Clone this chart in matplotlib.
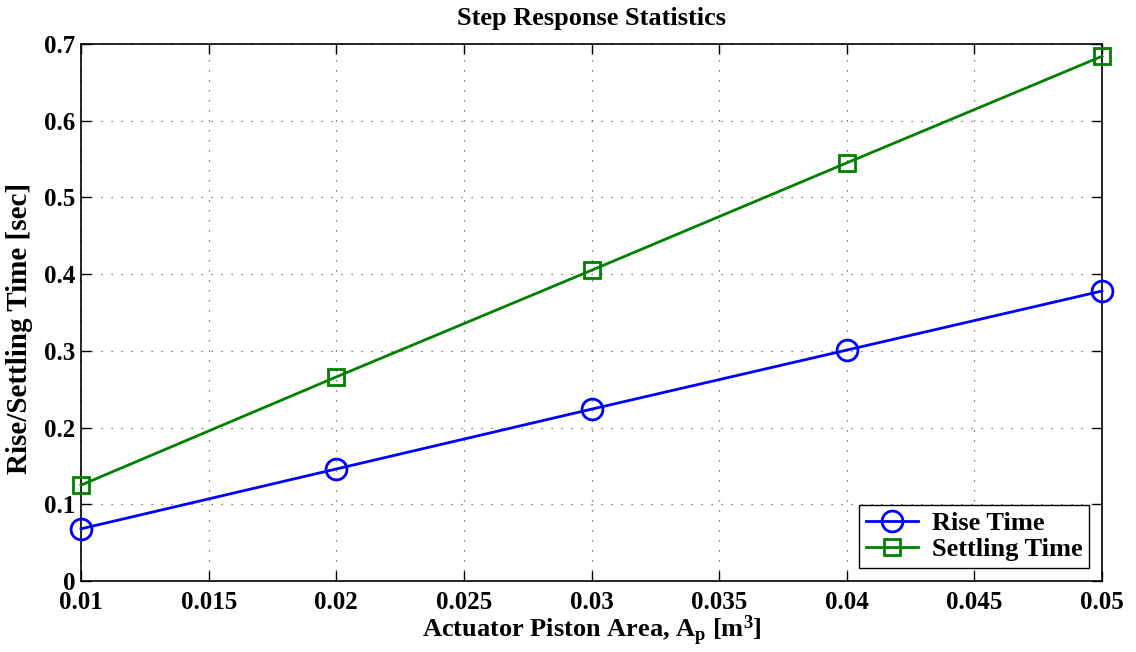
import numpy as np
import matplotlib.pyplot as plt

area = [0.01, 0.02, 0.03, 0.04, 0.05]
rise_time = [0.068, 0.146, 0.224, 0.301, 0.378]
settling_time = [0.125, 0.266, 0.405, 0.545, 0.684]
xticks = [0.01, 0.015, 0.02, 0.025, 0.03, 0.035, 0.04, 0.045, 0.05]
xticklabels = ['0.01', '0.015', '0.02', '0.025', '0.03', '0.035', '0.04', '0.045', '0.05']
yticks = [0, 0.1, 0.2, 0.3, 0.4, 0.5, 0.6, 0.7]
yticklabels = ['0', '0.1', '0.2', '0.3', '0.4', '0.5', '0.6', '0.7']

plt.rcParams['font.family'] = 'Liberation Serif'
plt.rcParams['font.weight'] = 'bold'
plt.rcParams['mathtext.fontset'] = 'custom'
plt.rcParams['mathtext.rm'] = 'Liberation Serif:bold'
plt.rcParams['mathtext.it'] = 'Liberation Serif:bold'
plt.rcParams['mathtext.bf'] = 'Liberation Serif:bold'

fig = plt.figure(figsize=(11.36, 6.52), dpi=100)
ax = fig.add_axes([81/1136, 1 - 581/652, (1102-81)/1136, (581-44)/652])

ax.plot(area, rise_time, color='#0000ff', lw=2, marker='o', ms=15,
        mfc='none', mew=2, label='Rise Time', clip_on=False, zorder=3)
ax.plot(area, settling_time, color='#008000', lw=2, marker='s', ms=12,
        mfc='none', mew=2, label='Settling Time', clip_on=False, zorder=3)

ax.set_xlim(0.01, 0.05)
ax.set_ylim(0, 0.7)
ax.set_xticks(xticks)
ax.set_xticklabels(xticklabels)
ax.set_yticks(yticks)
ax.set_yticklabels(yticklabels)
ax.tick_params(direction='in', length=7, labelsize=18, width=1, pad=4,
               top=True, right=True)
ax.tick_params(axis='x', pad=7)
ax.grid(True, color='#555555', lw=0.9, dashes=(1, 7))
for s in ax.spines.values():
    s.set_linewidth(1.2)
for lab in ax.get_xticklabels() + ax.get_yticklabels():
    lab.set_fontweight('bold')

ax.set_title('Step Response Statistics', fontsize=19, fontweight='bold', pad=14)
ax.set_xlabel(r'Actuator Piston Area, A$_\mathrm{p}$ [m$^\mathrm{3}$]',
              fontsize=19, fontweight='bold', labelpad=0)
ax.set_ylabel('Rise/Settling Time [sec]', fontsize=21, fontweight='bold')
ax.yaxis.set_label_coords(-0.047, 0.47)

leg = ax.legend(loc='lower right', fontsize=19, fancybox=False, framealpha=1,
                edgecolor='black', borderaxespad=0.5, handlelength=2.0,
                borderpad=0.25, labelspacing=0.1, handletextpad=0.5)
leg.get_frame().set_linewidth(1)

fig.savefig('out.png', dpi=100)
